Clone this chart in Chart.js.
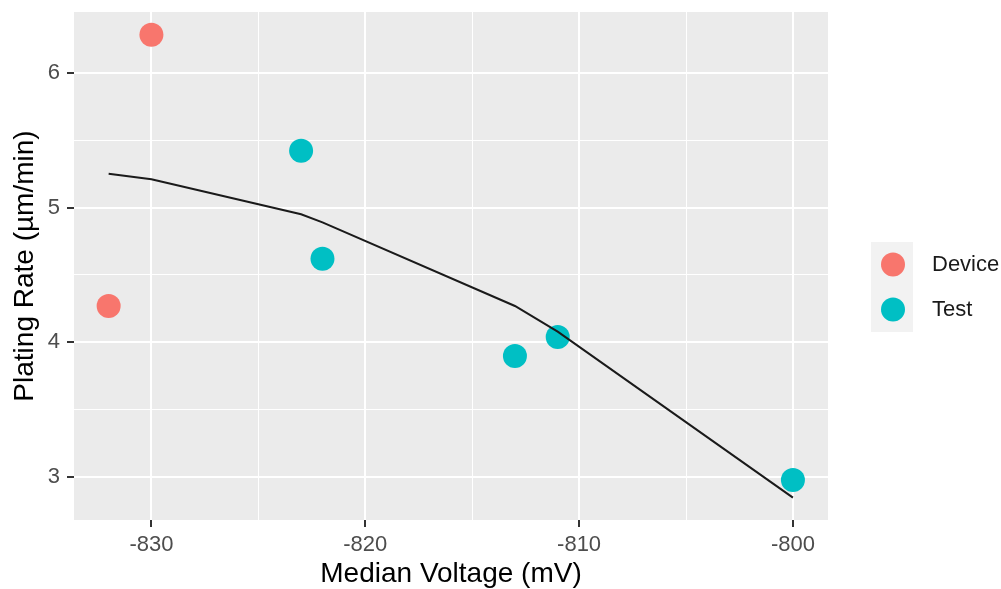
<!DOCTYPE html>
<html>
<head>
<meta charset="utf-8">
<script src="https://cdn.jsdelivr.net/npm/chart.js@4"></script>
<style>
  html, body { margin: 0; padding: 0; background: #fff; }
  #wrap { width: 1001px; height: 589px; }
</style>
</head>
<body>
<div id="wrap"><canvas id="plating-chart" width="1001" height="589"></canvas></div>
<script>
// DATA
const deviceVoltage = [-832, -830];
const devicePlating = [4.27, 6.28];
const testVoltage = [-823, -822, -813, -811, -800];
const testPlating = [5.42, 4.62, 3.90, 4.04, 2.98];
const fitVoltage = [-832, -830, -823, -822, -813, -811, -800];
const fitPlating = [5.25, 5.21, 4.95, 4.89, 4.27, 4.08, 2.85];
const groupNames = ["Device", "Test"];
const groupColors = ['#F8766D', '#00BFC4'];

const pairs = (xs, ys) => xs.map((x, i) => ({ x: x, y: ys[i] }));

// grey panel behind the grid
const panelBg = {
  id: 'panelBg',
  beforeDraw(chart) {
    const { ctx, chartArea: a } = chart;
    ctx.save();
    ctx.fillStyle = '#EBEBEB';
    ctx.fillRect(a.left, a.top, a.right - a.left, a.bottom - a.top);
    ctx.restore();
  }
};

// ggplot style legend on the right
const sideLegend = {
  id: 'sideLegend',
  afterDraw(chart) {
    const ctx = chart.ctx;
    const left = 871, top = 242, key = 45;
    ctx.save();
    ctx.fillStyle = '#F2F2F2';
    ctx.fillRect(left, top, 42, key * groupNames.length);
    groupNames.forEach((name, i) => {
      const cy = top + key * i + key / 2;
      ctx.beginPath();
      ctx.arc(left + 22, cy, 12, 0, Math.PI * 2);
      ctx.fillStyle = groupColors[i];
      ctx.fill();
      ctx.fillStyle = '#1A1A1A';
      ctx.font = '22px "Liberation Sans", Arial, sans-serif';
      ctx.textBaseline = 'middle';
      ctx.textAlign = 'left';
      ctx.fillText(name, 932, cy);
    });
    ctx.restore();
  }
};

const isMajorX = v => Math.abs(v % 10) < 1e-6;
const isMajorY = v => Math.abs(v - Math.round(v)) < 1e-6;

const ctx = document.getElementById('plating-chart').getContext('2d');

const chart = new Chart(ctx, {
  type: 'scatter',
  data: {
    datasets: [{
        type: 'line',
        label: 'fit',
        data: pairs(fitVoltage, fitPlating),
        borderColor: '#1A1A1A',
        borderWidth: 2,
        pointRadius: 0,
        fill: false,
        tension: 0,
        order: 0,
      },
      {
        label: groupNames[0],
        data: pairs(deviceVoltage, devicePlating),
        backgroundColor: groupColors[0],
        borderWidth: 0,
        pointRadius: 12,
        pointHoverRadius: 12,
        order: 1,
      },
      {
        label: groupNames[1],
        data: pairs(testVoltage, testPlating),
        backgroundColor: groupColors[1],
        borderWidth: 0,
        pointRadius: 12,
        pointHoverRadius: 12,
        order: 1,
      }
    ]
  },
  options: {
    responsive: false,
    animation: false,
    events: [],
    layout: { padding: { left: 0, top: 11, right: 173, bottom: 0 } },
    plugins: {
      legend: { display: false },
      tooltip: { enabled: false },
    },
    scales: {
      x: {
        type: 'linear',
        min: -833.62,
        max: -798.36,
        afterFit: s => { s.height = 69; s.paddingLeft = 0; s.paddingRight = 0; },
        border: { display: false },
        grid: {
          color: '#FFFFFF',
          lineWidth: c => isMajorX(c.tick.value) ? 2 : 1,
          tickLength: 7,
          tickColor: c => isMajorX(c.tick.value) ? '#333333' : 'rgba(0,0,0,0)',
          tickWidth: 2,
        },
        ticks: {
          stepSize: 5,
          includeBounds: false,
          autoSkip: false,
          maxRotation: 0,
          padding: 5,
          color: '#4D4D4D',
          font: { family: '"Liberation Sans", Arial, sans-serif', size: 22 },
          callback: v => isMajorX(v) ? String(v) : '',
        },
        title: {
          display: true,
          text: 'Median Voltage (mV)',
          color: '#000000',
          padding: { top: 0, bottom: 0 },
          font: { family: '"Liberation Sans", Arial, sans-serif', size: 28, lineHeight: 1.05 },
        },
      },
      y: {
        type: 'linear',
        min: 2.684,
        max: 6.449,
        afterFit: s => { s.width = 74; s.paddingTop = 0; s.paddingBottom = 0; },
        border: { display: false },
        grid: {
          color: '#FFFFFF',
          lineWidth: c => isMajorY(c.tick.value) ? 2 : 1,
          tickLength: 7,
          tickColor: c => isMajorY(c.tick.value) ? '#333333' : 'rgba(0,0,0,0)',
          tickWidth: 2,
        },
        ticks: {
          stepSize: 0.5,
          includeBounds: false,
          autoSkip: false,
          padding: 7,
          color: '#4D4D4D',
          font: { family: '"Liberation Sans", Arial, sans-serif', size: 22, lineHeight: 0.9 },
          callback: v => isMajorY(v) ? String(v) : '',
        },
        title: {
          display: true,
          text: 'Plating Rate (µm/min)',
          color: '#000000',
          padding: { top: 8, bottom: 0 },
          font: { family: '"Liberation Sans", Arial, sans-serif', size: 28, lineHeight: 1.2 },
        },
      },
    },
  },
  plugins: [panelBg, sideLegend],
});
</script>
</body>
</html>
